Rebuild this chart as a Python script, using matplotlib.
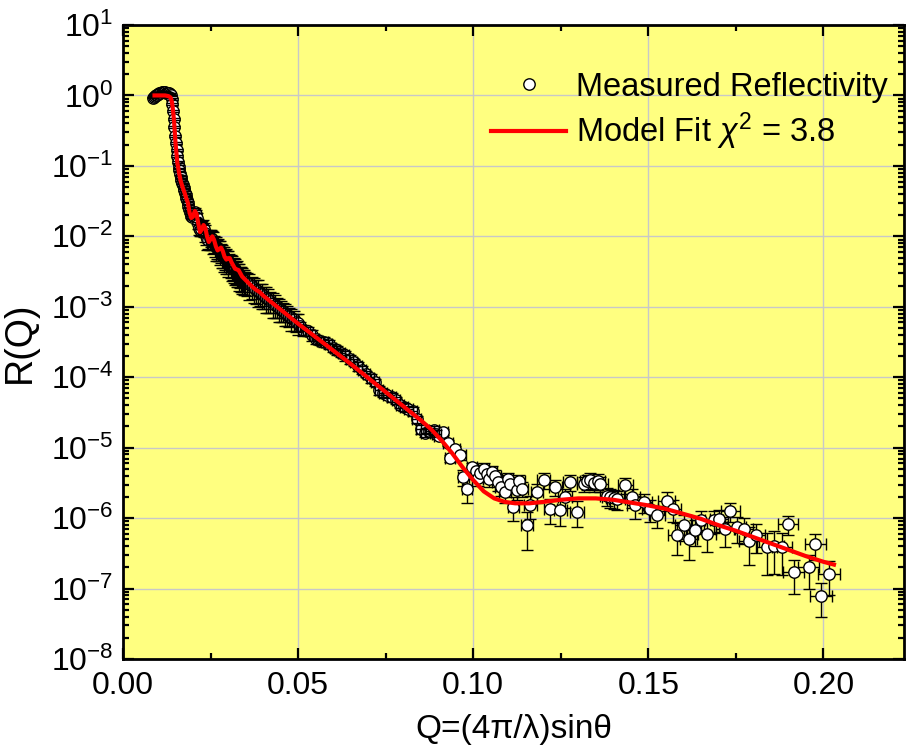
import numpy as np
import matplotlib
matplotlib.use("Agg")
import matplotlib.pyplot as plt
from matplotlib.ticker import LogLocator, MultipleLocator, FuncFormatter, NullFormatter
from matplotlib.lines import Line2D

plt.rcParams['font.family'] = ['Liberation Sans', 'DejaVu Sans']
plt.rcParams['mathtext.fontset'] = 'custom'
plt.rcParams['mathtext.rm'] = 'Liberation Sans'
plt.rcParams['mathtext.it'] = 'Liberation Sans:italic'
plt.rcParams['mathtext.bf'] = 'Liberation Sans:bold'

# ---------------- measured data: dense low-Q part (no visible x error) -------------
q_low = [0.0086, 0.0089, 0.0092, 0.0095, 0.0098, 0.0101, 0.0104, 0.0107, 0.0110, 0.0113,
         0.0116, 0.0119, 0.0122, 0.0125, 0.0128, 0.0131, 0.0134, 0.0137,
         0.0139, 0.0141, 0.0143, 0.0145, 0.0147, 0.0149, 0.0151, 0.0153, 0.0155, 0.0157,
         0.0159, 0.0161, 0.0163, 0.0165, 0.0167, 0.0169, 0.0171, 0.0173, 0.0175, 0.0177,
         0.0179, 0.0181, 0.0183, 0.0185, 0.0187, 0.0189, 0.0191, 0.0193, 0.0195, 0.0197, 0.0199,
         0.0202, 0.0205, 0.0208, 0.0211, 0.0214, 0.0217, 0.0220, 0.0223, 0.0226, 0.0229,
         0.0232, 0.0235, 0.0238, 0.0241, 0.0244, 0.0247, 0.0250, 0.0253, 0.0256, 0.0259,
         0.0262, 0.0265, 0.0268, 0.0271, 0.0274, 0.0277, 0.0280, 0.0283, 0.0286, 0.0289,
         0.0292, 0.0295, 0.0298, 0.0301, 0.0304, 0.0307, 0.0310, 0.0313, 0.0316, 0.0319,
         0.0322, 0.0325, 0.0328, 0.0331, 0.0334, 0.0337, 0.0340, 0.0343, 0.0346, 0.0349,
         0.0355, 0.0361, 0.0367, 0.0373, 0.0379, 0.0385, 0.0391, 0.0397, 0.0403, 0.0409,
         0.0415, 0.0421, 0.0427, 0.0433, 0.0439, 0.0445, 0.0451, 0.0457, 0.0463, 0.0469,
         0.0475, 0.0481, 0.0487, 0.0493, 0.0499]
logr_low = [-0.03, -0.02, -0.01, 0.00, 0.01, 0.02, 0.03, 0.04, 0.05, 0.05,
            0.05, 0.05, 0.04, 0.04, 0.03, 0.03, 0.02, 0.00,
            -0.05, -0.12, -0.22, -0.33, -0.45, -0.58, -0.68, -0.78, -0.86, -0.94,
            -1.01, -1.06, -1.11, -1.16, -1.20, -1.24, -1.27, -1.31, -1.34, -1.38,
            -1.41, -1.45, -1.49, -1.53, -1.57, -1.61, -1.65, -1.68, -1.71, -1.72, -1.71,
            -1.70, -1.66, -1.68, -1.74, -1.82, -1.88, -1.91, -1.89, -1.86, -1.87,
            -1.90, -1.95, -2.00, -2.04, -2.05, -2.03, -2.02, -2.04, -2.07, -2.10,
            -2.13, -2.15, -2.16, -2.17, -2.18, -2.20, -2.22, -2.25, -2.27, -2.29,
            -2.31, -2.32, -2.33, -2.35, -2.37, -2.40, -2.42, -2.44, -2.45, -2.47,
            -2.49, -2.50, -2.52, -2.54, -2.56, -2.58, -2.60, -2.61, -2.62, -2.64,
            -2.66, -2.68, -2.71, -2.73, -2.76, -2.77, -2.80, -2.82, -2.85, -2.87,
            -2.89, -2.92, -2.95, -2.97, -2.99, -3.02, -3.04, -3.06, -3.09, -3.11,
            -3.13, -3.16, -3.18, -3.21, -3.23]
relerr_low = [0.02, 0.02, 0.02, 0.02, 0.02, 0.02, 0.02, 0.02, 0.02, 0.02,
              0.02, 0.02, 0.02, 0.02, 0.02, 0.02, 0.02, 0.02,
              0.03, 0.03, 0.03, 0.03, 0.03, 0.03, 0.03, 0.03, 0.03, 0.03,
              0.04, 0.04, 0.04, 0.04, 0.04, 0.05, 0.05, 0.05, 0.05, 0.05,
              0.06, 0.06, 0.06, 0.06, 0.07, 0.07, 0.07, 0.07, 0.08, 0.08, 0.08,
              0.12, 0.15, 0.13, 0.17, 0.15, 0.20, 0.17, 0.22, 0.19, 0.25,
              0.22, 0.27, 0.24, 0.30, 0.25, 0.32, 0.27, 0.30, 0.34, 0.27,
              0.32, 0.36, 0.30, 0.35, 0.32, 0.38, 0.31, 0.36, 0.33, 0.39,
              0.32, 0.38, 0.34, 0.40, 0.32, 0.36, 0.39, 0.33, 0.38, 0.40,
              0.34, 0.39, 0.36, 0.41, 0.33, 0.38, 0.40, 0.34, 0.39, 0.36,
              0.36, 0.40, 0.34, 0.39, 0.37, 0.41, 0.35, 0.39, 0.34, 0.40,
              0.37, 0.33, 0.39, 0.35, 0.32, 0.37, 0.34, 0.31, 0.35, 0.32,
              0.30, 0.34, 0.31, 0.28, 0.32]

# ---------------- measured data: middle part -------------
q_mid = [0.0505, 0.0515, 0.0527, 0.0539, 0.0551, 0.0563, 0.0575, 0.0587, 0.0599, 0.0611,
         0.0623, 0.0635, 0.0647, 0.0659, 0.0671, 0.0683, 0.0695, 0.0707, 0.0719, 0.0731,
         0.0743, 0.0755, 0.0767, 0.0779, 0.0791, 0.0803, 0.0815, 0.0827, 0.0839, 0.0851,
         0.0863, 0.0875, 0.0887, 0.0895]
logr_mid = [-3.27, -3.33, -3.35, -3.40, -3.46, -3.48, -3.50, -3.53, -3.58, -3.62,
            -3.65, -3.69, -3.74, -3.79, -3.84, -3.90, -3.95, -4.01, -4.07, -4.18,
            -4.22, -4.25, -4.28, -4.33, -4.39, -4.42, -4.45, -4.48, -4.60, -4.74,
            -4.79, -4.76, -4.75, -4.80]
relerr_mid = [0.15, 0.18, 0.14, 0.17, 0.15, 0.13, 0.16, 0.14, 0.12, 0.15,
              0.13, 0.16, 0.14, 0.12, 0.15, 0.13, 0.11, 0.14, 0.12, 0.15,
              0.13, 0.11, 0.14, 0.12, 0.10, 0.13, 0.11, 0.14, 0.12, 0.15,
              0.13, 0.11, 0.14, 0.12]
dq_mid = [0.0008, 0.0008, 0.0008, 0.0008, 0.0009, 0.0009, 0.0009, 0.0009, 0.0009, 0.0009,
          0.0010, 0.0010, 0.0010, 0.0010, 0.0010, 0.0011, 0.0011, 0.0011, 0.0011, 0.0011,
          0.0012, 0.0012, 0.0012, 0.0012, 0.0012, 0.0012, 0.0013, 0.0013, 0.0013, 0.0013,
          0.0013, 0.0014, 0.0014, 0.0014]

# ---------------- measured data: high-Q tail -------------
q_tail = [0.0903, 0.0915, 0.0929, 0.0934, 0.0948, 0.0963, 0.0972, 0.0982, 0.0996, 0.1008,
          0.1013, 0.1020, 0.1030, 0.1039, 0.1045, 0.1053, 0.1062, 0.1072, 0.1080, 0.1091,
          0.1098, 0.1106, 0.1115, 0.1124, 0.1130, 0.1139, 0.1153, 0.1163, 0.1182, 0.1201,
          0.1220, 0.1234, 0.1249, 0.1263, 0.1277, 0.1296, 0.1315, 0.1325, 0.1334, 0.1345,
          0.1355, 0.1363, 0.1382, 0.1390, 0.1401, 0.1410, 0.1434, 0.1453, 0.1463, 0.1487,
          0.1506, 0.1525, 0.1553, 0.1570, 0.1582, 0.1601, 0.1615, 0.1634, 0.1649, 0.1668,
          0.1687, 0.1701, 0.1720, 0.1734, 0.1753, 0.1772, 0.1787, 0.1806, 0.1839, 0.1858,
          0.1882, 0.1898, 0.1915, 0.1958, 0.1977, 0.1993, 0.2015]
logr_tail = [-4.83, -4.78, -4.93, -5.15, -5.02, -5.11, -5.42, -5.58, -5.28, -5.33,
             -5.43, -5.36, -5.30, -5.37, -5.45, -5.34, -5.40, -5.49, -5.56, -5.63,
             -5.45, -5.51, -5.84, -5.60, -5.47, -5.58, -6.10, -5.82, -5.63, -5.46,
             -5.87, -5.56, -5.89, -5.70, -5.49, -5.91, -5.51, -5.48, -5.46, -5.50,
             -5.47, -5.51, -5.68, -5.70, -5.72, -5.73, -5.53, -5.70, -5.82, -5.77,
             -5.87, -5.96, -5.75, -5.87, -6.24, -6.10, -6.29, -6.17, -6.03, -6.22,
             -6.03, -6.01, -6.15, -5.90, -6.13, -6.15, -6.32, -6.24, -6.41, -6.39,
             -6.41, -6.09, -6.77, -6.70, -6.37, -7.10, -6.79]
relerr_tail = [0.10, 0.10, 0.10, 0.12, 0.12, 0.15, 0.25, 0.37, 0.15, 0.20,
               0.22, 0.20, 0.20, 0.20, 0.22, 0.20, 0.22, 0.25, 0.25, 0.30,
               0.22, 0.25, 0.38, 0.28, 0.22, 0.25, 0.56, 0.35, 0.30, 0.25,
               0.38, 0.25, 0.40, 0.30, 0.25, 0.40, 0.25, 0.25, 0.25, 0.25,
               0.25, 0.25, 0.30, 0.30, 0.30, 0.30, 0.25, 0.30, 0.35, 0.30,
               0.35, 0.35, 0.30, 0.35, 0.48, 0.40, 0.50, 0.40, 0.35, 0.45,
               0.35, 0.35, 0.45, 0.30, 0.40, 0.40, 0.55, 0.45, 0.60, 0.60,
               0.60, 0.30, 0.50, 0.50, 0.40, 0.50, 0.50]
dq_tail = [0.0014, 0.0014, 0.0014, 0.0014, 0.0015, 0.0015, 0.0015, 0.0015, 0.0015, 0.0016,
           0.0016, 0.0016, 0.0016, 0.0016, 0.0016, 0.0016, 0.0016, 0.0017, 0.0017, 0.0017,
           0.0017, 0.0017, 0.0017, 0.0017, 0.0018, 0.0018, 0.0018, 0.0018, 0.0018, 0.0019,
           0.0019, 0.0019, 0.0019, 0.0020, 0.0020, 0.0020, 0.0020, 0.0021, 0.0021, 0.0021,
           0.0021, 0.0021, 0.0021, 0.0022, 0.0022, 0.0022, 0.0022, 0.0023, 0.0023, 0.0023,
           0.0023, 0.0024, 0.0024, 0.0024, 0.0025, 0.0025, 0.0025, 0.0025, 0.0026, 0.0026,
           0.0026, 0.0026, 0.0027, 0.0027, 0.0027, 0.0027, 0.0028, 0.0028, 0.0029, 0.0029,
           0.0029, 0.0029, 0.0030, 0.0030, 0.0031, 0.0031, 0.0031]

# ---------------- model fit -------------
q_fit = [0.0090, 0.0100, 0.0110, 0.0120, 0.0130, 0.0136, 0.0140, 0.0143, 0.0146, 0.0150,
         0.0155, 0.0160, 0.0165, 0.0170, 0.0175, 0.0180, 0.0185, 0.0190, 0.0195, 0.0200,
         0.0205, 0.0210, 0.0215, 0.0220, 0.0225, 0.0230, 0.0235, 0.0240, 0.0245, 0.0250,
         0.0255, 0.0260, 0.0265, 0.0270, 0.0275, 0.0280, 0.0285, 0.0290, 0.0295, 0.0300,
         0.0305, 0.0310, 0.0320, 0.0325, 0.0330, 0.0340, 0.0350, 0.0360, 0.0370, 0.0380,
         0.0390, 0.0400, 0.0420, 0.0440, 0.0460, 0.0480, 0.0500, 0.0550, 0.0600, 0.0650,
         0.0700, 0.0750, 0.0800, 0.0850, 0.0880, 0.0910, 0.0940, 0.0970, 0.1000, 0.1030,
         0.1060, 0.1090, 0.1120, 0.1160, 0.1200, 0.1250, 0.1300, 0.1350, 0.1400, 0.1450,
         0.1500, 0.1550, 0.1600, 0.1650, 0.1700, 0.1750, 0.1800, 0.1850, 0.1900, 0.1950,
         0.2000, 0.2030]
logr_fit = [0.00, 0.00, 0.00, 0.00, -0.01, -0.03, -0.10, -0.22, -0.38, -0.68,
            -0.95, -1.10, -1.22, -1.30, -1.37, -1.45, -1.52, -1.66, -1.74, -1.72,
            -1.64, -1.68, -1.82, -1.94, -1.90, -1.84, -1.88, -2.00, -2.08, -2.04,
            -2.00, -2.05, -2.14, -2.20, -2.18, -2.16, -2.21, -2.29, -2.33, -2.31,
            -2.31, -2.37, -2.46, -2.47, -2.48, -2.57, -2.62, -2.67, -2.72, -2.76,
            -2.79, -2.84, -2.92, -3.00, -3.08, -3.16, -3.24, -3.43, -3.62, -3.81,
            -4.01, -4.21, -4.41, -4.61, -4.74, -4.90, -5.08, -5.28, -5.46, -5.62,
            -5.72, -5.77, -5.79, -5.79, -5.77, -5.74, -5.72, -5.72, -5.74, -5.78,
            -5.82, -5.87, -5.94, -6.01, -6.10, -6.18, -6.27, -6.36, -6.45, -6.54,
            -6.62, -6.66]

x_ticks = [0.00, 0.05, 0.10, 0.15, 0.20]
x_ticklabels = ['0.00', '0.05', '0.10', '0.15', '0.20']

# ---------------- figure -------------
fig = plt.figure(figsize=(9.11, 7.49), dpi=100)
ax = fig.add_axes([123 / 911, 1 - 659 / 749, 781 / 911, 634 / 749])
ax.set_facecolor('#FFFF80')
ax.set_axisbelow(True)

mkw = dict(ls='none', marker='o', ms=8.2, mfc='white', mec='black', mew=1.0)
bkw = dict(fmt='none', ecolor='black', elinewidth=1.0, capsize=4.4, capthick=1.0)


def r_and_err(logr, rel):
    r = 10.0 ** np.asarray(logr)
    e = r * np.asarray(rel)
    return r, e


# low-Q and mid part: bars drawn over the crowded symbols
r1, e1 = r_and_err(logr_low, relerr_low)
ax.plot(q_low, r1, zorder=3, **mkw)
ax.errorbar(q_low, r1, yerr=e1, zorder=4, **bkw)
r2, e2 = r_and_err(logr_mid, relerr_mid)
ax.plot(q_mid, r2, zorder=3, **mkw)
ax.errorbar(q_mid, r2, yerr=e2, xerr=dq_mid, zorder=4, **bkw)
# tail: bars below the symbols
r3, e3 = r_and_err(logr_tail, relerr_tail)
ax.errorbar(q_tail, r3, yerr=e3, xerr=dq_tail, zorder=2, **bkw)
ax.plot(q_tail, r3, zorder=3, **mkw)

ax.plot(q_fit, 10.0 ** np.asarray(logr_fit), color='#FF0000', lw=3.0, zorder=5)

ax.set_yscale('log')
ax.set_xlim(0, 0.223)
ax.set_ylim(1e-8, 1e1)

ax.set_xticks(x_ticks)
ax.set_xticklabels(x_ticklabels)
ax.xaxis.set_minor_locator(MultipleLocator(0.025))
ax.yaxis.set_major_locator(LogLocator(base=10, numticks=20))
ax.yaxis.set_minor_locator(LogLocator(base=10, subs=np.arange(2, 10), numticks=20))
ax.yaxis.set_minor_formatter(NullFormatter())
ax.yaxis.set_major_formatter(FuncFormatter(lambda v, p: r'$10^{%d}$' % int(round(np.log10(v)))))

ax.grid(True, which='major', color='#C8C8C8', lw=1.0)
for s in ax.spines.values():
    s.set_linewidth(2.0)
ax.tick_params(which='both', direction='in', top=True, right=True, labelsize=23, width=1.6)
ax.tick_params(which='major', length=8)
ax.tick_params(which='minor', length=4.5)
ax.tick_params(axis='x', pad=9)
ax.tick_params(axis='y', pad=7)

ax.set_xlabel('Q=(4π/λ)sinθ', fontsize=24, labelpad=9)
ax.set_ylabel('R(Q)', fontsize=27, labelpad=9)

handles = [Line2D([], [], **mkw),
           Line2D([], [], color='#FF0000', lw=3.0)]
ax.legend(handles, ['Measured Reflectivity', r'Model Fit $\chi^2$ = 3.8'],
          loc='upper right', bbox_to_anchor=(0.996, 0.947), frameon=False, fontsize=23.5,
          handlelength=2.3, handletextpad=0.3, labelspacing=0.25, borderaxespad=0.0,
          borderpad=0.4)

fig.savefig('out.png', dpi=100)
